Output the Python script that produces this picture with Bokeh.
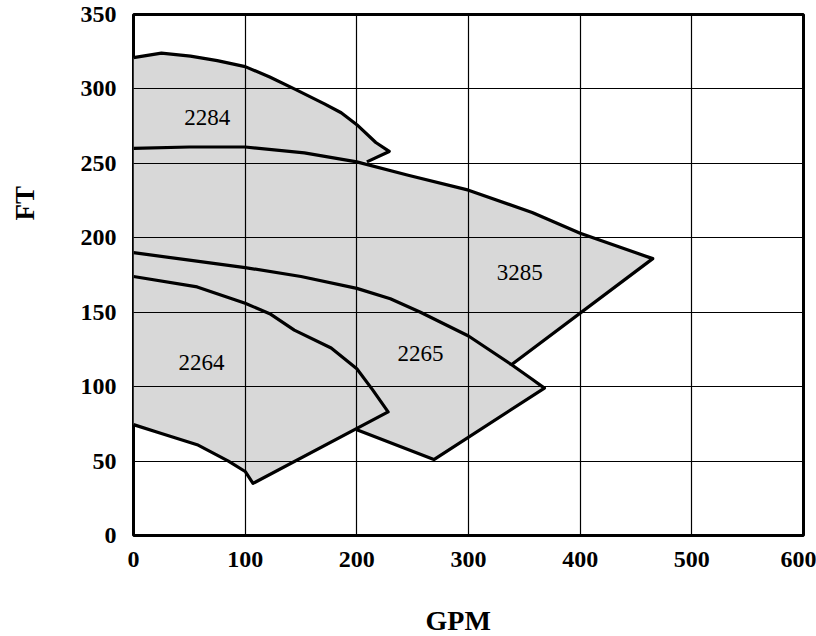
from bokeh.plotting import figure
from bokeh.models import Range1d, FixedTicker, Title
from bokeh.embed import file_html
from bokeh.resources import INLINE
from bokeh.core.properties import value

# ---- data (GPM, FT) ----
gpm_ticks = [0, 100, 200, 300, 400, 500, 600]
ft_ticks = [0, 50, 100, 150, 200, 250, 300, 350]

# 2284: top curve, then short return line onto the 3285 curve
top2284_x = [0, 25, 51, 75, 100, 122, 144, 171, 186, 200, 217, 229]
top2284_y = [321, 324, 322, 319, 315, 308, 300, 290, 284, 276, 264, 258]
end2284_x = [209]
end2284_y = [251]

# 3285: top curve, then right edge down to the 2265 curve
top3285_x = [0, 50, 100, 153, 200, 246, 300, 357, 400, 465]
top3285_y = [260, 261, 261, 257, 251, 242, 232, 217, 203, 186]
end3285_x = [339]
end3285_y = [115]

# 2265: top curve, right edge, bottom edge
top2265_x = [0, 50, 100, 150, 200, 230, 257, 300, 338, 357, 368]
top2265_y = [190, 185, 180, 174, 166, 159, 150, 134, 115, 105, 99]
end2265_x = [269, 200]
end2265_y = [51, 71]

# 2264: top curve, right edge, bottom curve
top2264_x = [0, 57, 100, 122, 144, 177, 200, 214, 228]
top2264_y = [174, 167, 156, 149, 138, 126, 112, 98, 83]
end2264_x = [107]
end2264_y = [35]
bot2264_x = [0, 25, 57, 85, 100]
bot2264_y = [74.5, 68.5, 61, 50, 43]

model_names = ["2284", "3285", "2265", "2264"]
label_x = [66, 346, 257, 61]
label_y = [281, 177, 122, 116]

FONT = "Liberation Serif"
FILL = "#d8d8d8"

p = figure(width=816, height=636, output_backend="svg", toolbar_location=None,
           x_range=Range1d(0, 600), y_range=Range1d(0, 350),
           min_border_left=133, min_border_right=13, min_border_top=14,
           min_border_bottom=101, background_fill_color="white",
           border_fill_color="white")

# fills
polys_x = [
    top2284_x + end2284_x + [0],
    top3285_x + end3285_x + [0],
    top2265_x + end2265_x + [0],
    top2264_x + end2264_x + bot2264_x[::-1],
]
polys_y = [
    top2284_y + end2284_y + [top3285_y[0]],
    top3285_y + end3285_y + [top2265_y[0]],
    top2265_y + end2265_y + [top2264_y[0]],
    top2264_y + end2264_y + bot2264_y[::-1],
]
p.patches(polys_x, polys_y, fill_color=FILL, line_color=None)

# outlines
lines_x = [
    top2284_x + end2284_x,
    top3285_x + end3285_x,
    top2265_x + end2265_x,
    top2264_x + end2264_x + bot2264_x[::-1],
]
lines_y = [
    top2284_y + end2284_y,
    top3285_y + end3285_y,
    top2265_y + end2265_y,
    top2264_y + end2264_y + bot2264_y[::-1],
]
p.multi_line(lines_x, lines_y, line_color="black", line_width=3.2,
             line_join="round", line_cap="butt")

p.text(x=label_x, y=label_y, text=model_names, text_font=value(FONT),
       text_font_size="23px", text_align="center", text_baseline="middle",
       text_color="black")

# grid
p.xgrid.ticker = FixedTicker(ticks=gpm_ticks)
p.ygrid.ticker = FixedTicker(ticks=ft_ticks)
for g in (p.xgrid, p.ygrid):
    g.grid_line_color = "black"
    g.grid_line_width = 1.2
    g.level = "guide"

# axes
p.xaxis.ticker = FixedTicker(ticks=gpm_ticks)
p.yaxis.ticker = FixedTicker(ticks=ft_ticks)
for ax in (p.xaxis, p.yaxis):
    ax.axis_line_color = None
    ax.major_tick_line_color = None
    ax.minor_tick_line_color = None
    ax.major_tick_out = 0
    ax.major_tick_in = 0
    ax.major_label_text_font = FONT
    ax.major_label_text_font_style = "bold"
    ax.major_label_text_font_size = "24px"
    ax.major_label_text_color = "black"
p.xaxis.major_label_standoff = 16
p.yaxis.major_label_standoff = 17

p.outline_line_color = "black"
p.outline_line_width = 3
p.outline_line_alpha = 1

# spacing panels between the axes and their titles
p.add_layout(Title(text=" ", standoff=15, text_font_size="10px"), "left")
p.add_layout(Title(text=" ", standoff=20, text_font_size="10px"), "below")

# axis titles
p.add_layout(Title(text="FT", align="left", offset=315, standoff=16,
                   vertical_align="top",
                   text_font=FONT, text_font_style="bold",
                   text_font_size="27px", text_color="black"), "left")
p.add_layout(Title(text="GPM", align="left", offset=292, standoff=0,
                   vertical_align="bottom",
                   text_font=FONT, text_font_style="bold",
                   text_font_size="28px", text_color="black"), "below")

open("out.html", "w").write(file_html(p, INLINE))
